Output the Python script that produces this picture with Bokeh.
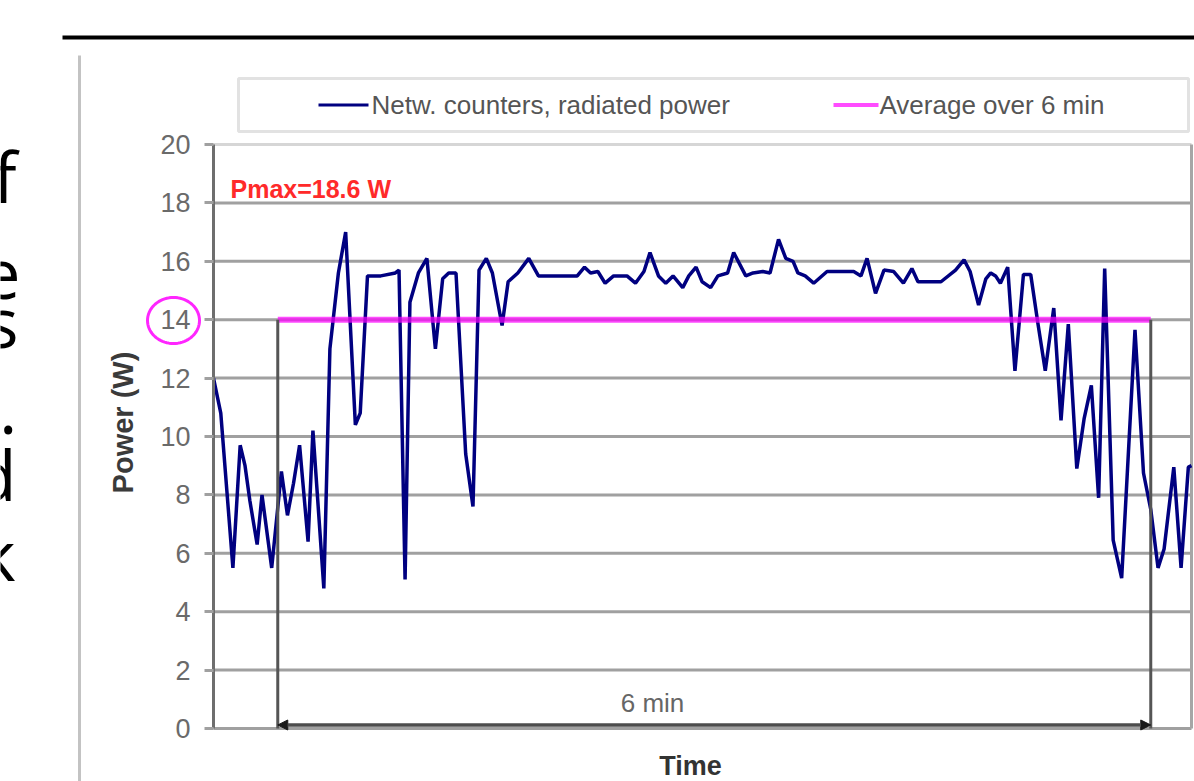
import math
from bokeh.plotting import figure
from bokeh.models import (Range1d, FixedTicker, Label, Arrow, NormalHead,
                          PolyAnnotation)
from bokeh.embed import file_html
from bokeh.resources import INLINE

# ---------------- data ----------------
time_s = [0, 3, 8, 11, 13, 15, 18, 20, 24, 28,
          30.5, 33, 35.5, 39, 41, 45.5, 48, 51.5, 54.5, 58.5,
          60.5, 63.5, 69, 75, 76.5, 79, 81, 84.5, 88, 91.5,
          94.5, 97, 100, 104, 107, 109.5, 112.5, 115, 119, 121.5,
          125.5, 130, 134, 142.5, 150, 153, 155.5, 158.5, 161.5, 165,
          170.5, 174, 177.5, 180, 183.5, 186.5, 189.5, 193.5, 196, 199,
          201.5, 205, 208, 212, 214.5, 219.5, 222.5, 226.5, 229.5, 233,
          236, 239, 241, 244, 247.5, 253, 264, 267, 269.5, 273,
          276.5, 280.5, 284.5, 288, 290.5, 300, 306, 309.5, 312, 315.5,
          318.5, 320.5, 322.5, 324.5, 327.5, 330.5, 334, 337, 340, 343,
          346.5, 349.5, 352.5, 356, 359, 362, 365, 367.5, 371, 374.5,
          380, 383.5, 386.5, 389.5, 392, 396, 399, 402, 403.3]
power_w = [12.0, 10.8, 5.5, 9.7, 9.0, 7.8, 6.3, 8.0, 5.5, 8.8,
           7.3, 8.4, 9.7, 6.4, 10.2, 4.8, 13.0, 15.6, 17.0, 10.4,
           10.8, 15.5, 15.5, 15.6, 15.7, 5.1, 14.6, 15.6, 16.1, 13.0,
           15.4, 15.6, 15.6, 9.4, 7.6, 15.7, 16.1, 15.6, 13.8, 15.3,
           15.6, 16.1, 15.5, 15.5, 15.5, 15.8, 15.6, 15.65, 15.25, 15.5,
           15.5, 15.25, 15.65, 16.3, 15.5, 15.25, 15.5, 15.1, 15.5, 15.8,
           15.3, 15.1, 15.5, 15.6, 16.3, 15.5, 15.6, 15.65, 15.6, 16.75,
           16.1, 16.0, 15.6, 15.5, 15.25, 15.65, 15.65, 15.5, 16.1, 14.9,
           15.7, 15.65, 15.25, 15.75, 15.3, 15.3, 15.7, 16.05, 15.65, 14.5,
           15.4, 15.6, 15.5, 15.25, 15.8, 12.25, 15.55, 15.55, 13.85, 12.25,
           14.4, 10.55, 13.85, 8.9, 10.6, 11.75, 7.9, 15.75, 6.45, 5.15,
           13.65, 8.75, 7.5, 5.5, 6.15, 8.95, 5.5, 8.95, 9.0]

window_t = [26.5, 386.5]        # 6 min averaging window (s)
avg_power = [14.0, 14.0]        # average over 6 min (W)
y_ticks = [0, 2, 4, 6, 8, 10, 12, 14, 16, 18, 20]
grid_ticks = [0, 2, 4, 6, 8, 10, 12, 14, 16, 18]
series_names = ["Netw. counters, radiated power", "Average over 6 min"]
pmax_text = "Pmax=18.6 W"
window_text = "6 min"
side_letters = ["f", "e", "s", ".", "d", "k"]

assert len(time_s) == len(power_w)

# ---------------- layout helpers (page pixels -> data) ----------------
W, H = 1194, 781
T_END = 403.3
FRAME_L, FRAME_R, FRAME_T, FRAME_B = 213, 1191, 144, 728
PX_T = (FRAME_R - FRAME_L) / T_END
PX_V = (FRAME_B - FRAME_T) / 20.0


def tx(px):
    return (px - FRAME_L) / PX_T


def vy(py):
    return (FRAME_B - py) / PX_V


p = figure(width=W, height=H, output_backend="svg", toolbar_location=None,
           x_range=Range1d(tx(0), tx(W)), y_range=Range1d(vy(H), vy(0)),
           x_axis_location=None, min_border=0)
p.background_fill_color = "white"
p.border_fill_color = "white"
p.outline_line_color = None
p.grid.visible = False

ax = p.yaxis[0]
ax.fixed_location = 0
ax.bounds = (0, 20)
ax.ticker = FixedTicker(ticks=y_ticks)
ax.axis_line_color = "#6e6e6e"
ax.axis_line_width = 3
ax.major_tick_line_color = "#a0a0a0"
ax.major_tick_line_width = 3
ax.major_tick_in = 0
ax.major_tick_out = 9
ax.minor_tick_line_color = None
ax.major_label_standoff = 14
ax.major_label_text_font = "Liberation Sans"
ax.major_label_text_font_size = "27px"
ax.major_label_text_color = "#6a6a6a"

# plot-area gridlines and border
n_g = len(grid_ticks)
p.segment(x0=[0] * n_g, x1=[T_END] * n_g, y0=grid_ticks, y1=grid_ticks,
          line_color="#a0a0a0", line_width=3)
p.segment(x0=[0], x1=[T_END], y0=[y_ticks[-1]], y1=[y_ticks[-1]],
          line_color="#d6d6d6", line_width=3)
p.segment(x0=[T_END], x1=[T_END], y0=[0], y1=[y_ticks[-1]],
          line_color="#a6a6a6", line_width=3)

# ---------------- data marks ----------------
p.line(time_s, power_w, line_color="#000080", line_width=3.5)
p.line(window_t, avg_power, line_color="#ff00ff", line_alpha=0.7, line_width=6)
p.segment(x0=window_t, y0=[0, 0], x1=window_t, y1=avg_power,
          line_color="#555555", line_width=3)
p.add_layout(Arrow(start=NormalHead(size=10, fill_color="#1a1a1a", line_color="#1a1a1a"),
                   end=NormalHead(size=10, fill_color="#1a1a1a", line_color="#1a1a1a"),
                   x_start=window_t[0], x_end=window_t[1], y_start=0.12, y_end=0.12,
                   line_color="#4d4d4d", line_width=3.5))

p.add_layout(Label(x=tx(652), y=vy(702), text=window_text,
                   text_align="center", text_baseline="middle",
                   text_font="Liberation Sans", text_font_size="26px",
                   text_color="#666666"))
p.add_layout(Label(x=tx(230), y=vy(188), text=pmax_text, text_align="left",
                   text_baseline="middle", text_font="Liberation Sans",
                   text_font_size="25px", text_font_style="bold",
                   text_color="#ff2a2a"))
p.add_layout(Label(x=tx(690), y=vy(765), text="Time", text_align="center",
                   text_baseline="middle", text_font="Liberation Sans",
                   text_font_size="27px", text_font_style="bold",
                   text_color="#333333"))
p.add_layout(Label(x=tx(122), y=vy(422), text="Power (W)", angle=math.pi / 2,
                   text_align="center", text_baseline="middle",
                   text_font="Liberation Sans", text_font_size="29px",
                   text_font_style="bold", text_color="#3a3a3a"))

# ---------------- legend (drawn by hand) ----------------
p.add_layout(PolyAnnotation(xs=[tx(238), tx(1188), tx(1188), tx(238)],
                            ys=[vy(78), vy(78), vy(131), vy(131)],
                            fill_alpha=0, line_color="#a0a0a0", line_width=3))
leg_y = vy(104.5)
p.add_layout(Arrow(end=None, x_start=tx(318), x_end=tx(368), y_start=leg_y, y_end=leg_y,
                   line_color="#000080", line_width=3))
p.add_layout(Label(x=tx(371), y=leg_y, text=series_names[0], text_align="left",
                   text_baseline="middle", text_font="Liberation Sans",
                   text_font_size="26px", text_color="#555555"))
p.add_layout(Arrow(end=None, x_start=tx(833), x_end=tx(878), y_start=leg_y, y_end=leg_y,
                   line_color="#ff00ff", line_alpha=0.7, line_width=4))
p.add_layout(Label(x=tx(879), y=leg_y, text=series_names[1], text_align="left",
                   text_baseline="middle", text_font="Liberation Sans",
                   text_font_size="26px", text_color="#555555"))

# ---------------- highlight circle round the "14" label ----------------
cx, cy, rx, ry = 173, 320, 26, 23
n = 72
p.add_layout(PolyAnnotation(
    xs=[tx(cx + rx * math.cos(2 * math.pi * k / n)) for k in range(n)],
    ys=[vy(cy + ry * math.sin(2 * math.pi * k / n)) for k in range(n)],
    fill_alpha=0, line_color="#ff00ff", line_alpha=0.85, line_width=3))

# ---------------- slide decorations ----------------
p.add_layout(Arrow(end=None, x_start=tx(62), x_end=tx(W + 5), y_start=vy(37), y_end=vy(37),
                   line_color="black", line_width=4))
p.add_layout(Arrow(end=None, x_start=tx(79), x_end=tx(79), y_start=vy(55), y_end=vy(H + 5),
                   line_color="#c3c3c3", line_width=3))
letter_right = [16, 20, 18, 17, 16, 15]
letter_mid = [175, 273, 320, 408, 473, 553]
for ch, rx_, my in zip(side_letters, letter_right, letter_mid):
    p.add_layout(Label(x=tx(rx_), y=vy(my), text=ch, text_align="right",
                       text_baseline="middle", text_font="Open Sans",
                       text_font_size="70px", text_color="black"))

open("out.html", "w").write(file_html(p, INLINE))
